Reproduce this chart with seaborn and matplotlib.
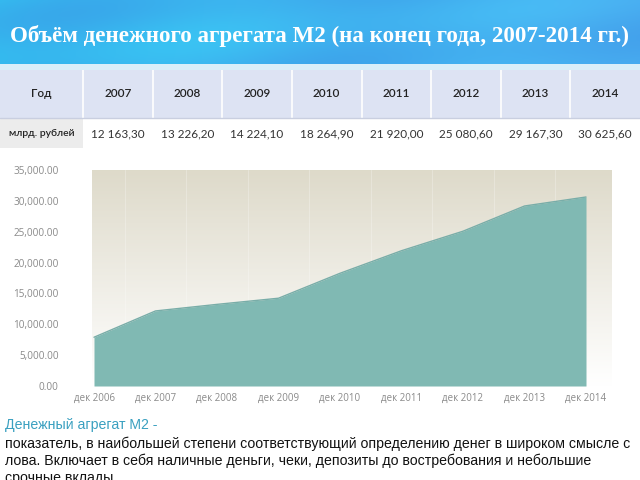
import numpy as np
import matplotlib
matplotlib.use("Agg")
import matplotlib.pyplot as plt
from matplotlib.patches import Rectangle
import seaborn as sns
import pandas as pd

# ---- data ----
title = "Объём денежного агрегата М2 (на конец года, 2007-2014 гг.)"
table_header = ["Год", "2007", "2008", "2009", "2010", "2011", "2012", "2013", "2014"]
table_row = ["млрд. рублей", "12 163,30", "13 226,20", "14 224,10", "18 264,90",
             "21 920,00", "25 080,60", "29 167,30", "30 625,60"]
chart_labels = ["дек 2006", "дек 2007", "дек 2008", "дек 2009", "дек 2010",
                "дек 2011", "дек 2012", "дек 2013", "дек 2014"]
chart_values = [7900, 12163.3, 13226.2, 14224.1, 18264.9, 21920.0, 25080.6, 29167.3, 30625.6]
y_ticks = [0, 5000, 10000, 15000, 20000, 25000, 30000, 35000]
note_head = "Денежный агрегат М2 -"
note_lines = ["показатель, в наибольшей степени соответствующий определению денег в широком смысле с",
              "лова. Включает в себя наличные деньги, чеки, депозиты до востребования и небольшие",
              "срочные вклады."]

sns.set_theme(style="white")
plt.rcParams['font.family'] = ['Lato', 'DejaVu Sans']

W, H = 640, 480
fig = plt.figure(figsize=(6.4, 4.8), dpi=100)
fig.patch.set_facecolor("white")

def ax_px(x0, y0, x1, y1):
    return fig.add_axes([x0 / W, 1 - y1 / H, (x1 - x0) / W, (y1 - y0) / H])

# ---- title bar ----
tax = ax_px(0, 0, 640, 64)
xs = np.linspace(0, 1, 320)
ys = np.linspace(0, 1, 40)
X, Y = np.meshgrid(xs, ys)
c1 = np.array([0.20, 0.78, 0.95])
c2 = np.array([0.23, 0.55, 0.89])
c3 = np.array([0.30, 0.72, 0.96])
t = 0.5 + 0.5 * np.sin(X * 9 + Y * 3.0) * np.cos(X * 4 - Y * 2)
base = (c1[None, None, :] * (1 - X[..., None]) + c3[None, None, :] * X[..., None])
img = base * (1 - 0.5 * t[..., None]) + c2[None, None, :] * 0.5 * t[..., None]
tax.imshow(np.clip(img, 0, 1), extent=[0, 1, 0, 1], aspect="auto", origin="upper")
tax.set_xlim(0, 1); tax.set_ylim(0, 1)
tax.axis("off")
tax.text(0.5, 0.44, title, ha="center", va="center", color="white",
         fontsize=16.6, fontweight="bold", family=["Liberation Serif", "DejaVu Serif"])

# strip
sax = ax_px(0, 64, 640, 70)
sax.set_facecolor("#d9eef9")
sax.set_xticks([]); sax.set_yticks([])
for s in sax.spines.values():
    s.set_visible(False)

# ---- table ----
tb = ax_px(0, 70, 640, 152)
tb.set_xlim(0, 640); tb.set_ylim(152, 70)
tb.axis("off")
first_w = 83
col_w = (640 - first_w) / (len(table_header) - 1)
edges = [0, first_w] + [first_w + col_w * (i + 1) for i in range(len(table_header) - 1)]
hdr_y0, hdr_y1, row_y1 = 70, 118, 150
tb.add_patch(Rectangle((0, hdr_y0), 640, hdr_y1 - hdr_y0, facecolor="#dde3f3", edgecolor="none"))
for i, lab in enumerate(table_header):
    x0, x1 = edges[i], edges[i + 1]
    if i > 0:
        tb.plot([x0, x0], [hdr_y0, hdr_y1], color="white", lw=1.2)
    tb.text((x0 + x1) / 2, (hdr_y0 + hdr_y1) / 2, lab, ha="center", va="center",
            fontsize=8.5, color="#222222", fontweight="semibold")
tb.plot([0, 640], [hdr_y1, hdr_y1], color="#c9cfe0", lw=1)
for i, lab in enumerate(table_row):
    x0, x1 = edges[i], edges[i + 1]
    if i == 0:
        tb.add_patch(Rectangle((x0, hdr_y1), x1 - x0, row_y1 - hdr_y1 - 2, facecolor="#ececec",
                               edgecolor="none"))
        tb.text((x0 + x1) / 2, (hdr_y1 + row_y1) / 2, lab, ha="center", va="center",
                fontsize=7.5, color="#222222", fontweight="semibold")
    else:
        tb.text((x0 + x1) / 2, (hdr_y1 + row_y1) / 2, lab, ha="center", va="center",
                fontsize=8.5, color="#333333")

# ---- area chart ----
ax = ax_px(92, 170, 612, 386)
df = pd.DataFrame({"x": np.arange(len(chart_labels)), "value": chart_values})
ppu = (586 - 94) / (len(chart_labels) - 1)
ax.set_xlim(-(94 - 92) / ppu, (612 - 94) / ppu)
ax.set_ylim(0, 35000)
grad = np.linspace(0, 1, 256)[:, None]
top = np.array([0.870, 0.855, 0.792])
bot = np.array([1.0, 1.0, 1.0])
gimg = top[None, None, :] * (1 - grad[..., None]) + bot[None, None, :] * grad[..., None]
gimg = np.repeat(gimg, 4, axis=1)
ax.imshow(gimg, extent=[ax.get_xlim()[0], ax.get_xlim()[1], 0, 35000], aspect="auto",
          origin="upper", zorder=0)
for xv in np.arange(0.5, 8.5, 1.0):
    ax.axvline(xv, color="white", lw=0.8, alpha=0.25, zorder=1)
ax.fill_between(df["x"], 0, df["value"], color="#80b9b3", zorder=2, lw=0)
sns.lineplot(data=df, x="x", y="value", ax=ax, color="#79ada8", lw=1.0, zorder=3)
ax.set_xticks(df["x"])
ax.set_xticklabels(chart_labels, fontsize=7, color="#8a8a8a", family=["Open Sans", "DejaVu Sans"])
ax.set_yticks(y_ticks)
ax.set_yticklabels([f"{v:,.2f}" for v in y_ticks], fontsize=7.2, color="#8a8a8a",
                   family=["Open Sans", "DejaVu Sans"])
ax.tick_params(axis="y", pad=24, length=0)
ax.tick_params(axis="x", pad=5, length=0)
ax.set_xlabel(""); ax.set_ylabel("")
for s in ax.spines.values():
    s.set_visible(False)

# ---- note text ----
fam = ["Liberation Sans Narrow", "Liberation Sans", "DejaVu Sans"]
fig.text(5 / W, 1 - 425 / H, note_head, ha="left", va="center", fontsize=10.2,
         color="#3aa0c0", family=fam)
for k, line in enumerate(note_lines):
    fig.text(5 / W, 1 - (444 + 17 * k) / H, line, ha="left", va="center", fontsize=10.2,
             color="#111111", family=fam)

fig.savefig("out.png", dpi=100)
